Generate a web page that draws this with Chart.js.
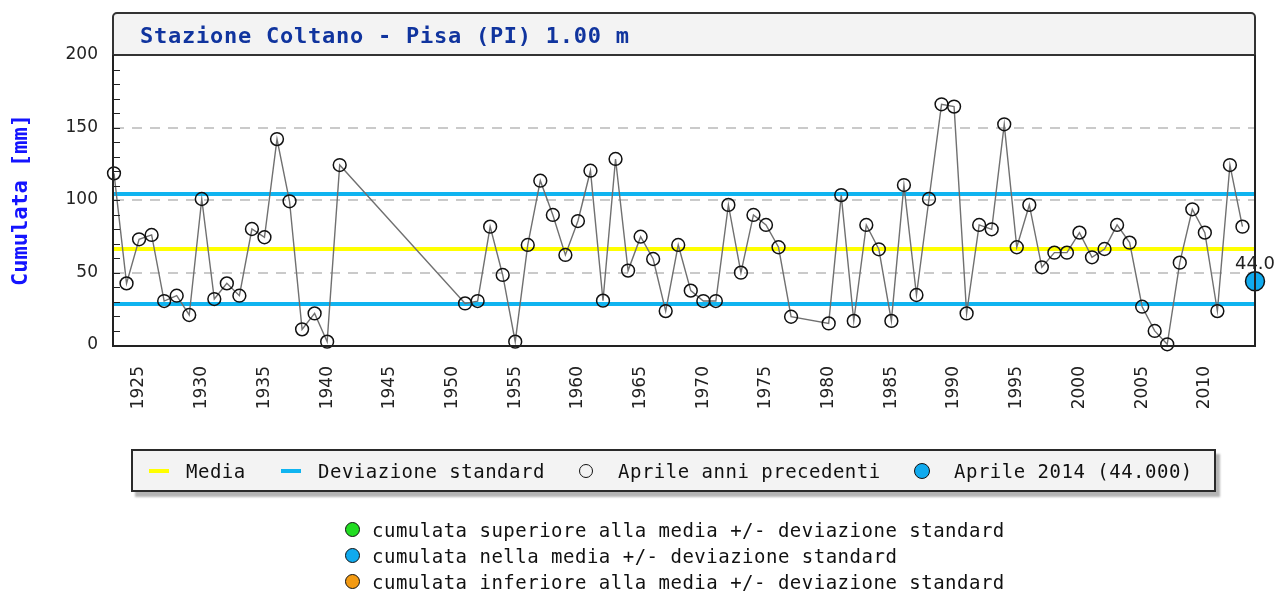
<!DOCTYPE html>
<html>
<head>
<meta charset="utf-8">
<script src="https://cdn.jsdelivr.net/npm/chart.js@4.4.1/dist/chart.umd.min.js"></script>
<style>
  body { margin: 0; background: #fff; }
  #wrap { position: relative; width: 1283px; height: 593px; overflow: hidden; background: #fff; }
  #chart { position: absolute; left: 0; top: 0; }
  .titlebox { position: absolute; left: 112px; top: 12px; width: 1140px; height: 40px;
    background: #f3f3f3; border: 2px solid #333; border-radius: 5px 5px 0 0; }
  .titletext { position: absolute; left: 140px; top: 23px; font: bold 22px "DejaVu Sans Mono", monospace;
    line-height: 26px; letter-spacing: 0.75px; color: #10349e; white-space: nowrap; }
  .legendbox { position: absolute; left: 131px; top: 449px; width: 1081px; height: 39px;
    background: #f3f3f3; border: 2px solid #2a2a2a; box-shadow: 4px 5px 2px #b4b4b4; }
  .lt { position: absolute; font: 19px "DejaVu Sans Mono", monospace; letter-spacing: 0.5px;
    line-height: 22px; color: #111; white-space: nowrap; }
  .dash { position: absolute; height: 4px; width: 20px; }
  .dot { position: absolute; border-radius: 50%; box-sizing: border-box; border: 1.5px solid #111; }
</style>
</head>
<body>
<div id="wrap">
  <div class="titlebox"></div>
  <canvas id="chart" width="1283" height="593"></canvas>
  <div class="titletext" id="titletext"></div>

  <div class="legendbox"></div>
  <div class="dash" style="left:149px;top:469px;background:#ffff00"></div>
  <div class="lt" style="left:186px;top:460px">Media</div>
  <div class="dash" style="left:281px;top:469px;background:#10b4f0"></div>
  <div class="lt" style="left:318px;top:460px">Deviazione standard</div>
  <div class="dot" style="left:579px;top:464px;width:14px;height:14px;background:transparent"></div>
  <div class="lt" style="left:618px;top:460px">Aprile anni precedenti</div>
  <div class="dot" style="left:914px;top:463px;width:16px;height:16px;background:#10aaee"></div>
  <div class="lt" style="left:954px;top:460px" id="curLegend"></div>

  <div class="dot" style="left:345px;top:522px;width:15px;height:15px;background:#22dd22"></div>
  <div class="lt" style="left:372px;top:519px">cumulata superiore alla media +/- deviazione standard</div>
  <div class="dot" style="left:345px;top:548px;width:15px;height:15px;background:#10aaee"></div>
  <div class="lt" style="left:372px;top:545px">cumulata nella media +/- deviazione standard</div>
  <div class="dot" style="left:345px;top:574px;width:15px;height:15px;background:#f39a12"></div>
  <div class="lt" style="left:372px;top:571px">cumulata inferiore alla media +/- deviazione standard</div>
</div>
<script>
// ---- data ----
const chartTitle = "Stazione Coltano - Pisa (PI) 1.00 m";
const yAxisTitle = "Cumulata [mm]";
const years = [1923,1924,1925,1926,1927,1928,1929,1930,1931,1932,1933,1934,1935,1936,1937,1938,1939,1940,1941,
  1951,1952,1953,1954,1955,1956,1957,1958,1959,1960,1961,1962,1963,1964,1965,1966,1967,1968,1969,1970,1971,1972,1973,1974,1975,1976,1977,
  1980,1981,1982,1983,1984,1985,1986,1987,1988,1989,1990,1991,1992,1993,1994,1995,1996,1997,1998,1999,2000,2001,2002,2003,2004,2005,2006,2007,2008,2009,2010,2011,2012,2013];
const aprilValues = [118.4,42.5,72.9,75.9,30.3,34.0,20.7,100.7,31.7,42.5,34.0,80.0,74.3,142.0,99.1,10.8,21.8,2.3,124.1,
  28.7,30.3,81.6,48.3,2.3,69.0,113.3,89.7,62.1,85.5,120.2,30.6,128.3,51.3,74.7,59.3,23.4,69.0,37.5,30.3,30.3,96.6,49.9,89.7,82.8,67.4,19.5,
  14.9,103.4,16.6,82.8,66.0,16.6,110.3,34.5,100.7,166.0,164.4,21.8,82.8,79.8,152.2,67.4,96.6,53.6,63.7,63.7,77.5,60.5,66.2,82.8,70.6,26.4,9.7,0.5,56.8,93.6,77.5,23.4,124.1,81.6];
const currentYear = 2014;
const currentValue = 44.0;
const meanValue = 66.2;
const stdValue = 37.9;
const xTickYears = [1925,1930,1935,1940,1945,1950,1955,1960,1965,1970,1975,1980,1985,1990,1995,2000,2005,2010];
const yTickValues = [0,50,100,150,200];
const xMin = 1923, xMax = 2014, yMin = 0, yMax = 200;

document.getElementById('titletext').textContent = chartTitle;
document.getElementById('curLegend').textContent = 'Aprile ' + currentYear + ' (' + currentValue.toFixed(3) + ')';

const frameAndTicks = {
  id: 'frameAndTicks',
  afterDatasetsDraw(chart) {
    const {ctx, chartArea: a, scales: {y}} = chart;
    ctx.save();
    ctx.strokeStyle = '#222';
    ctx.lineWidth = 1;
    for (let v = 10; v < 200; v += 10) {
      const py = Math.round(y.getPixelForValue(v)) + 0.5;
      ctx.beginPath(); ctx.moveTo(a.left, py); ctx.lineTo(a.left + 6, py); ctx.stroke();
    }
    ctx.lineWidth = 2;
    ctx.strokeStyle = '#222';
    ctx.beginPath();
    ctx.moveTo(a.left - 1, a.top);
    ctx.lineTo(a.left - 1, a.bottom + 1);
    ctx.lineTo(a.right, a.bottom + 1);
    ctx.lineTo(a.right, a.top);
    ctx.stroke();
    // current value label
    const meta = chart.getDatasetMeta(1);
    const pt = meta.data[0];
    ctx.fillStyle = '#222';
    ctx.font = '18px "DejaVu Sans"';
    ctx.textAlign = 'center';
    ctx.textBaseline = 'alphabetic';
    ctx.fillText(currentValue.toFixed(1), pt.x, pt.y - 12);
    ctx.restore();
  }
};

new Chart(document.getElementById('chart'), {
  type: 'line',
  data: {
    datasets: [
      {
        label: 'Aprile anni precedenti',
        data: years.map((yr, i) => ({x: yr, y: aprilValues[i]})),
        borderColor: '#707070', borderWidth: 1.4,
        pointRadius: 6.4, pointBorderWidth: 1.5, pointBorderColor: '#111',
        pointBackgroundColor: 'rgba(0,0,0,0)', tension: 0, clip: false
      },
      {
        label: 'Aprile ' + currentYear,
        data: [{x: currentYear, y: currentValue}],
        showLine: false, pointRadius: 9.5, pointBorderWidth: 1.5,
        pointBorderColor: '#111', pointBackgroundColor: '#10aaee', clip: false
      },
      {
        label: 'Media',
        data: [{x: xMin, y: meanValue}, {x: xMax, y: meanValue}],
        borderColor: '#ffff00', borderWidth: 4, pointRadius: 0
      },
      {
        label: 'Dev+',
        data: [{x: xMin, y: meanValue + stdValue}, {x: xMax, y: meanValue + stdValue}],
        borderColor: '#10b4f0', borderWidth: 4, pointRadius: 0
      },
      {
        label: 'Dev-',
        data: [{x: xMin, y: meanValue - stdValue}, {x: xMax, y: meanValue - stdValue}],
        borderColor: '#10b4f0', borderWidth: 4, pointRadius: 0
      }
    ]
  },
  options: {
    responsive: false,
    animation: false,
    devicePixelRatio: 1,
    layout: { padding: { top: 55, right: 28, left: 0, bottom: 0 } },
    plugins: { legend: { display: false }, tooltip: { enabled: false }, title: { display: false } },
    scales: {
      x: {
        type: 'linear', min: xMin, max: xMax,
        afterFit(s) { s.height = 248; },
        afterBuildTicks(s) { s.ticks = xTickYears.map(v => ({value: v})); },
        grid: { display: false, drawTicks: false },
        border: { display: false },
        ticks: { minRotation: 90, maxRotation: 90, padding: 21, autoSkip: false,
          color: '#222', font: { family: 'DejaVu Sans', size: 17 }, callback: v => String(v) }
      },
      y: {
        min: yMin, max: yMax,
        afterFit(s) { s.width = 114; },
        afterBuildTicks(s) { s.ticks = yTickValues.map(v => ({value: v})); },
        grid: { drawTicks: false, lineWidth: 2,
          color: c => (c.tick && c.tick.value > yMin && c.tick.value < yMax) ? '#cacaca' : 'rgba(0,0,0,0)' },
        border: { display: false, dash: [10, 8] },
        ticks: { padding: 16, color: '#222', font: { family: 'DejaVu Sans', size: 17 } },
        title: { display: true, text: yAxisTitle, color: '#1414ff',
          font: { family: 'DejaVu Sans Mono', size: 22, weight: 'bold' }, padding: { top: 8, bottom: 0 } }
      }
    }
  },
  plugins: [frameAndTicks]
});
</script>
</body>
</html>
